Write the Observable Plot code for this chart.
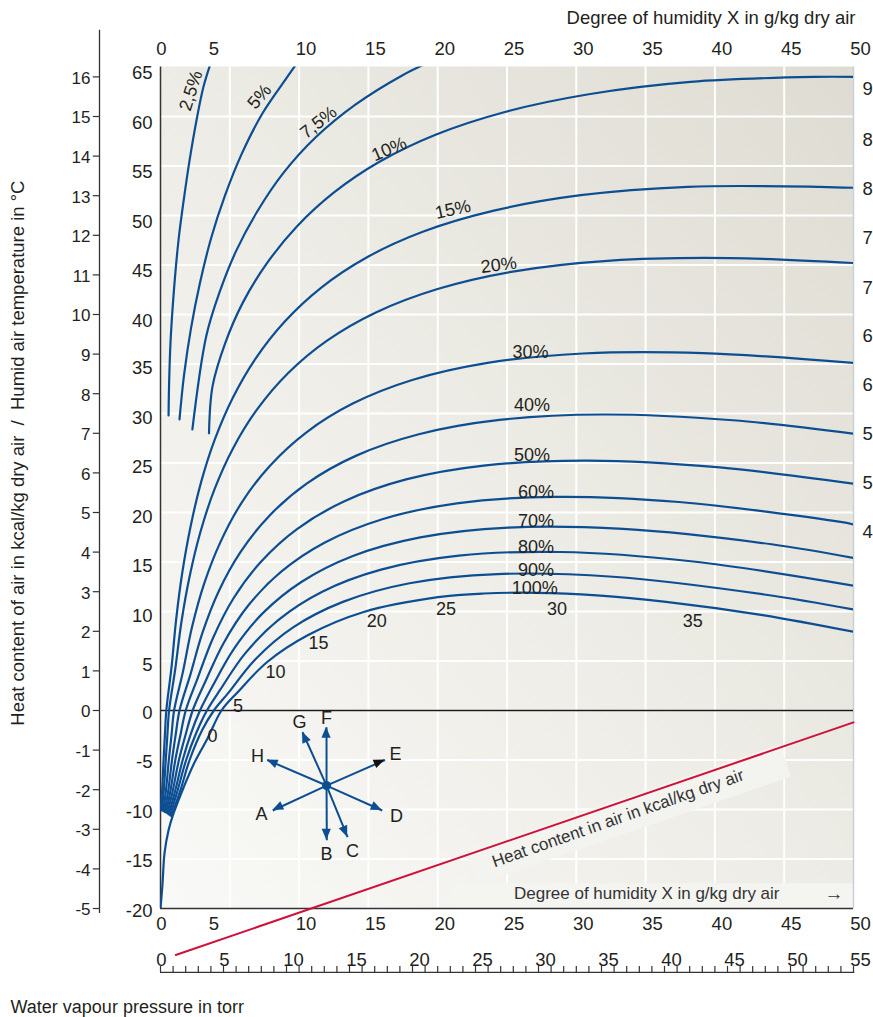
<!DOCTYPE html>
<html><head><meta charset="utf-8">
<script src="https://cdn.jsdelivr.net/npm/d3@7"></script>
<script src="https://cdn.jsdelivr.net/npm/@observablehq/plot@0.6"></script>
<style>body{margin:0;background:#fff;} svg{display:block;}</style>
</head><body><div id="chart"></div>
<script>
// ---------- data ----------
const xTicks = [0,5,10,15,20,25,30,35,40,45,50];
const tTicks = [-20,-15,-10,-5,0,5,10,15,20,25,30,35,40,45,50,55,60,65];
const heatTicks = [-5,-4,-3,-2,-1,0,1,2,3,4,5,6,7,8,9,10,11,12,13,14,15,16];
const torrTicks = [0,1,2,3,4,5,6,7,8,9,10,11,12,13,14,15,16,17,18,19,20,21,22,23,24,25,26,27,28,29,30,31,32,33,34,35,36,37,38,39,40,41,42,43,44,45,46,47,48,49,50,51,52,53,54,55];
const torrLabels = [0,5,10,15,20,25,30,35,40,45,50,55];
const rightLabels = ["9","8","8","7","7","6","6","5","5","4"];
const rightLabelT = [62.8,57.6,52.7,47.7,42.7,37.8,32.9,27.9,23.0,18.0];

// relative humidity curves: [X g/kg, T °C]
const rh2_5 = [[0.58,29.8],[0.62,33],[0.72,37.1],[0.95,42.1],[1.3,47.5],[1.67,51.5],[2.1,55.6],[2.65,60],[3.1,63],[3.6,65.3]];
const rh5   = [[1.37,29.4],[1.7,33.9],[2.2,38.6],[2.85,43.2],[3.65,47.7],[4.65,52],[5.85,56.2],[7.35,60.3],[9.1,63.9],[9.75,65.2]];
const rh7_5 = [[2.3,28.4],[3.3,37.8],[4.25,42.2],[5.45,46.4],[6.98,50.4],[8.87,54.3],[11.2,57.9],[14.06,61.2],[17.5,64.2],[19.1,65.3]];
const rh10  = [[3.5,28.0],[3.75,32.72],[4.65,37.04],[5.94,41.2],[7.67,45.16],[9.84,48.89],[12.52,52.33],[15.83,55.45],[19.89,58.18],[24.85,60.46],[30.9,62.25],[38.24,63.5],[47.15,64.0],[50,64.0]];
const rh15  = [[0,-10.0],[0.12,-8],[0.22,-5],[0.32,-2.4],[0.42,0],[0.8,4.43],[1.13,9.2],[1.57,13.91],[2.16,18.52],[2.92,23.02],[3.92,27.38],[5.21,31.57],[6.86,35.55],[8.95,39.27],[11.58,42.7],[14.87,45.76],[18.97,48.38],[24.05,50.49],[30.32,52.05],[38.04,52.9],[47.54,52.9],[50,52.8]];
const rh20  = [[0.1,-10.1],[0.24,-8],[0.38,-5],[0.5,-2.4],[0.62,0],[1.07,4.24],[1.51,8.94],[2.1,13.54],[2.88,18.03],[3.9,22.36],[5.24,26.5],[6.97,30.41],[9.18,34.04],[11.99,37.33],[15.54,40.2],[19.99,42.57],[25.54,44.36],[32.48,45.45],[41.09,45.7],[50,45.2]];
const rh30  = [[0.2,-10.15],[0.4,-8],[0.6,-5],[0.8,-2.4],[0.98,0],[1.61,3.85],[2.27,8.4],[3.15,12.81],[4.33,17.03],[5.87,21.03],[7.9,24.73],[10.51,28.08],[13.87,31.0],[18.16,33.38],[23.6,35.11],[30.47,36.06],[39.12,36.1],[50,35.1]];
const rh40  = [[0.3,-10.25],[0.57,-8],[0.83,-5],[1.1,-2.4],[1.37,0],[2.15,3.6],[3.03,7.87],[4.21,12.08],[5.78,16.03],[7.86,19.68],[10.57,22.94],[14.09,25.72],[18.64,27.9],[24.45,29.35],[31.87,29.9],[41.3,29.32],[50,27.97]];
const rh50  = [[0.4,-10.3],[0.73,-8],[1.07,-5],[1.45,-2.4],[1.82,0],[2.69,3.3],[3.79,7.33],[5.27,11.34],[7.25,15.03],[9.85,18.33],[13.27,21.14],[17.72,23.34],[23.47,24.76],[30.87,25.24],[40.35,24.55],[50,22.9]];
const rh60  = [[0.5,-10.4],[0.9,-8],[1.33,-5],[1.82,-2.4],[2.32,0],[3.23,2.9],[4.55,6.8],[6.33,10.6],[8.71,14.02],[11.86,16.97],[16.0,19.32],[21.38,20.92],[28.38,21.58],[37.41,21.06],[49.06,19.05],[50,18.8]];
const rh70  = [[0.6,-10.5],[1.08,-8],[1.6,-5],[2.2,-2.3],[2.85,0],[3.77,2.5],[5.31,6.26],[7.4,9.86],[10.19,13.01],[13.88,15.61],[18.74,17.49],[25.09,18.48],[33.36,18.34],[44.08,16.79],[50,15.4]];
const rh80  = [[0.7,-10.6],[1.25,-8],[1.85,-5],[2.6,-2.2],[3.35,0],[4.31,2.1],[6.08,5.72],[8.47,9.11],[11.67,12.0],[15.91,14.23],[21.52,15.64],[28.84,16.01],[38.43,15.05],[50,12.61]];
const rh90  = [[0.8,-10.7],[1.45,-8],[2.1,-5],[3.0,-2.0],[3.85,0],[4.85,1.7],[6.85,5.18],[9.54,8.37],[13.16,10.97],[17.96,12.85],[24.3,13.78],[32.64,13.51],[43.56,11.72],[50,10.2]];
const rh100 = [[0,-20],[0.14,-17.6],[0.29,-14.4],[0.58,-12.1],[0.94,-10.4],[1.66,-7.8],[2.4,-5.4],[3.4,-2.8],[4.4,0],[5.6,1.9],[7.7,4.9],[10.62,7.6],[14.66,9.95],[20.02,11.45],[23.33,11.82],[27.13,11.89],[31.48,11.63],[36.48,10.98],[43.45,9.64],[50,7.95]];

const curveNames  = ["2,5%","5%","7,5%","10%","15%","20%","30%","40%","50%","60%","70%","80%","90%","100%"];
const curveSeries = [rh2_5,rh5,rh7_5,rh10,rh15,rh20,rh30,rh40,rh50,rh60,rh70,rh80,rh90,rh100];
// curve label positions [X, T, rotation]
const curveLabelPos = [[2.2,62.6,-72],[7.14,62.0,-50],[11.4,59.4,-38],[16.5,56.7,-23],[21.1,50.6,-12],[24.4,45.0,-7],[26.7,36.2,0],[26.8,30.8,0],[26.8,25.8,0],[27.1,22.0,0],[27.1,19.1,0],[27.1,16.5,0],[27.1,14.2,0],[27.0,12.3,0]];

// saturation temperatures along 100% curve
const satLabels = ["0","5","10","15","20","25","30","35"];
const satLabelPos = [[3.75,-2.6],[5.6,0.4],[8.3,3.9],[11.4,6.8],[15.6,9.0],[20.6,10.2],[28.6,10.2],[38.4,9.0]];

// process arrows
const arrowCenter = [11.98,-7.58];
const arrowLabels = ["A","B","C","D","E","F","G","H"];
const arrowTip = [[8.1,-10.1],[12.0,-13.1],[13.5,-12.8],[16.0,-10.1],[16.2,-5.0],[11.98,-1.7],[10.25,-2.2],[7.7,-5.0]];
const arrowLabelPos = [[7.29,-10.5],[11.98,-14.5],[13.85,-14.2],[17.03,-10.7],[16.96,-4.44],[11.98,-0.8],[10.03,-1.2],[7.0,-4.65]];

// heat content auxiliary line
const heatLine = [[1.1,-24.7],[50,-1.2]];

// ---------- styles ----------
const BLUE = "#0d4e92", RED = "#d0103a", INK = "#231f20";
const FONT = "'Liberation Sans', Arial, Helvetica, sans-serif";

const curveRows = curveSeries.flatMap((pts,i)=>pts.map(([x,t])=>({rh:curveNames[i],x,t})));
const curveLabelRows = curveNames.map((n,i)=>({text:n,x:curveLabelPos[i][0],t:curveLabelPos[i][1],rot:curveLabelPos[i][2]}));
const satRows = satLabels.map((s,i)=>({text:s,x:satLabelPos[i][0],t:satLabelPos[i][1]}));
const arrowRows = arrowLabels.map((l,i)=>({label:l,x:arrowTip[i][0],t:arrowTip[i][1],lx:arrowLabelPos[i][0],lt:arrowLabelPos[i][1]}));
const rightRows = rightLabels.map((l,i)=>({text:l,t:rightLabelT[i]}));

const NS = "http://www.w3.org/2000/svg";
function arrowHeads(index, scales) {
  const g = document.createElementNS(NS,"g");
  const x0 = scales.x(arrowCenter[0]), y0 = scales.y(arrowCenter[1]);
  arrowRows.forEach(r=>{
    const x1 = scales.x(r.x), y1 = scales.y(r.t);
    const a = Math.atan2(y1-y0, x1-x0), L = 11, w = 4.6;
    const bx = x1 - L*Math.cos(a), by = y1 - L*Math.sin(a);
    const p = document.createElementNS(NS,"path");
    p.setAttribute("d",`M${x1},${y1}L${bx-w*Math.sin(a)},${by+w*Math.cos(a)}L${bx+w*Math.sin(a)},${by-w*Math.cos(a)}Z`);
    p.setAttribute("fill", r.label==="E" ? "#111" : BLUE);
    g.appendChild(p);
  });
  return g;
}

const gridX = xTicks.filter(d=>d>0 && d<50);
const gridT = tTicks.filter(d=>d>-20 && d<65);
const redLabelCenter = [33.0,-10.9];
const T = {fill:INK, lineAnchor:"middle"};

const marks = [
  Plot.rect([0],{x1:0,x2:50,y1:-20,y2:65,fill:"url(#bgGrad)"}),
  Plot.ruleX(gridX,{y1:-20,y2:65,stroke:"#ffffff",strokeWidth:2}),
  Plot.ruleY(gridT,{x1:0,x2:50,stroke:"#ffffff",strokeWidth:2}),
  // label backgrounds
  Plot.rect([0],{x1:21.1,x2:50,y1:-20,y2:-17.5,fill:"#f4f4f1"}),
  Plot.line([[22.4,-15.96],[45.1,-5.05]],{x:d=>d[0],y:d=>d[1],stroke:"#f3f3ef",strokeWidth:34,strokeLinecap:"butt"}),
  // frame
  Plot.ruleX([50],{y1:-20,y2:65,stroke:"#c9d0d8",strokeWidth:1.5}),
  Plot.ruleY([0],{x1:0,x2:50,stroke:"#1a1a1a",strokeWidth:1.3}),
  Plot.ruleY([-20],{x1:0,x2:50,stroke:"#333",strokeWidth:1.5}),
  Plot.ruleX([0],{y1:-20,y2:65,stroke:"#333",strokeWidth:1.5}),
  // humidity curves
  Plot.line(curveRows,{x:"x",y:"t",z:"rh",stroke:BLUE,strokeWidth:2.2,curve:"catmull-rom",clip:true}),
  Plot.text(curveLabelRows,{x:"x",y:"t",text:"text",rotate:"rot",fontSize:18,...T}),
  Plot.text(satRows,{x:"x",y:"t",text:"text",fontSize:18,...T}),
  // arrows
  Plot.link(arrowRows,{x1:arrowCenter[0],y1:arrowCenter[1],x2:"x",y2:"t",stroke:BLUE,strokeWidth:2}),
  arrowHeads,
  Plot.dot([0],{x:arrowCenter[0],y:arrowCenter[1],r:4.5,fill:BLUE}),
  Plot.text(arrowRows,{x:"lx",y:"lt",text:"label",fontSize:18,...T}),
  // heat content line
  Plot.line(heatLine,{x:d=>d[0],y:d=>d[1],stroke:RED,strokeWidth:2}),
  Plot.text(["Heat content in air in kcal/kg dry air"],{x:redLabelCenter[0],y:redLabelCenter[1],rotate:-19.3,fontSize:17,...T,fill:"#333"}),
  Plot.text(["Degree of humidity X in g/kg dry air"],{frameAnchor:"bottom-right",dx:-74,dy:-15,textAnchor:"end",fontSize:17,...T,fill:"#333"}),
  Plot.text(["→"],{frameAnchor:"bottom-right",dx:-10,dy:-15,fontSize:19,...T,fill:"#333"}),
  // top axis
  Plot.text(["Degree of humidity X in g/kg dry air"],{frameAnchor:"top-right",dx:2,dy:-48.5,textAnchor:"end",fontSize:18.5,...T}),
  Plot.text(xTicks.filter(d=>d>=10),{x:d=>d,text:d=>String(d),frameAnchor:"top",dx:7,dy:-18,fontSize:18.5,...T}),
  Plot.text([0],{x:d=>d,text:d=>String(d),frameAnchor:"top",dx:1,dy:-18,fontSize:18.5,...T}),
  Plot.text([5],{x:d=>d,text:d=>String(d),frameAnchor:"top",dx:-16,dy:-18,fontSize:18.5,...T}),
  // bottom axis
  Plot.text(xTicks.filter(d=>d>=10),{x:d=>d,text:d=>String(d),frameAnchor:"bottom",dx:7,dy:15.5,fontSize:18.5,...T}),
  Plot.text([0],{x:d=>d,text:d=>String(d),frameAnchor:"bottom",dx:1,dy:15.5,fontSize:18.5,...T}),
  Plot.text([5],{x:d=>d,text:d=>String(d),frameAnchor:"bottom",dx:-16,dy:15.5,fontSize:18.5,...T}),
  // torr axis
  Plot.ruleY([-26.46],{x1:0,x2:50.1,stroke:"#333",strokeWidth:1.3}),
  Plot.ruleX(torrTicks,{x:d=>d*50/55,y1:-26.46,y2:-25.85,stroke:"#333",strokeWidth:1.2}),
  Plot.text(torrLabels.filter(d=>d>=10),{x:d=>d*50/55,text:d=>String(d),frameAnchor:"bottom",dx:7,dy:51.5,fontSize:18.5,...T}),
  Plot.text(torrLabels.filter(d=>d<10),{x:d=>d*50/55,text:d=>String(d),frameAnchor:"bottom",dx:1,dy:51.5,fontSize:18.5,...T}),
  Plot.text(["Water vapour pressure in torr"],{frameAnchor:"bottom-left",dx:-150,dy:99,textAnchor:"start",fontSize:18,...T}),
  // temperature axis labels
  Plot.text(tTicks.filter(d=>d>=40),{y:d=>d,text:d=>String(d),frameAnchor:"left",dx:-8,dy:6.5,textAnchor:"end",fontSize:18.5,...T}),
  Plot.text(tTicks.filter(d=>d>=5&&d<40),{y:d=>d,text:d=>String(d),frameAnchor:"left",dx:-8,dy:4.5,textAnchor:"end",fontSize:18.5,...T}),
  Plot.text(tTicks.filter(d=>d<5),{y:d=>d,text:d=>String(d),frameAnchor:"left",dx:-8,dy:2.5,textAnchor:"end",fontSize:18.5,...T}),
  // heat content axis
  Plot.ruleX([0],{dx:-61,y1:-20.5,y2:68.7,stroke:"#333",strokeWidth:1.3}),
  Plot.ruleY(heatTicks,{y:d=>4*d,x1:-4.4,x2:-4.85,stroke:"#333",strokeWidth:1.2}),
  Plot.text(heatTicks,{y:d=>4*d,text:d=>String(d),frameAnchor:"left",dx:-70,dy:1.5,textAnchor:"end",fontSize:17,...T}),
  Plot.text(["Heat content of air in kcal/kg dry air  /  Humid air temperature in °C"],{x:0,y:26,dx:-142,rotate:-90,fontSize:18.5,...T}),
  // right labels
  Plot.text(rightRows,{y:"t",text:"text",frameAnchor:"right",dx:9,textAnchor:"start",fontSize:18.5,...T})
];

const svg = Plot.plot({
  width:873, height:1017,
  marginLeft:160, marginRight:20, marginTop:66.5, marginBottom:109,
  x:{domain:[0,50], axis:null},
  y:{domain:[-20,65], axis:null},
  style:{background:"#ffffff", fontFamily:FONT, fontSize:"18px", color:INK},
  marks
});

// gradient for the chart background
const defs = document.createElementNS(NS,"defs");
const lg = document.createElementNS(NS,"linearGradient");
lg.setAttribute("id","bgGrad"); lg.setAttribute("x1","0"); lg.setAttribute("y1","1"); lg.setAttribute("x2","1"); lg.setAttribute("y2","0");
[["0%","#f9f9f7"],["45%","#eeede7"],["100%","#dedcd2"]].forEach(([o,c])=>{
  const s = document.createElementNS(NS,"stop"); s.setAttribute("offset",o); s.setAttribute("stop-color",c); lg.appendChild(s);
});
defs.appendChild(lg);
svg.insertBefore(defs, svg.firstChild);
document.getElementById("chart").appendChild(svg);
</script></body></html>
